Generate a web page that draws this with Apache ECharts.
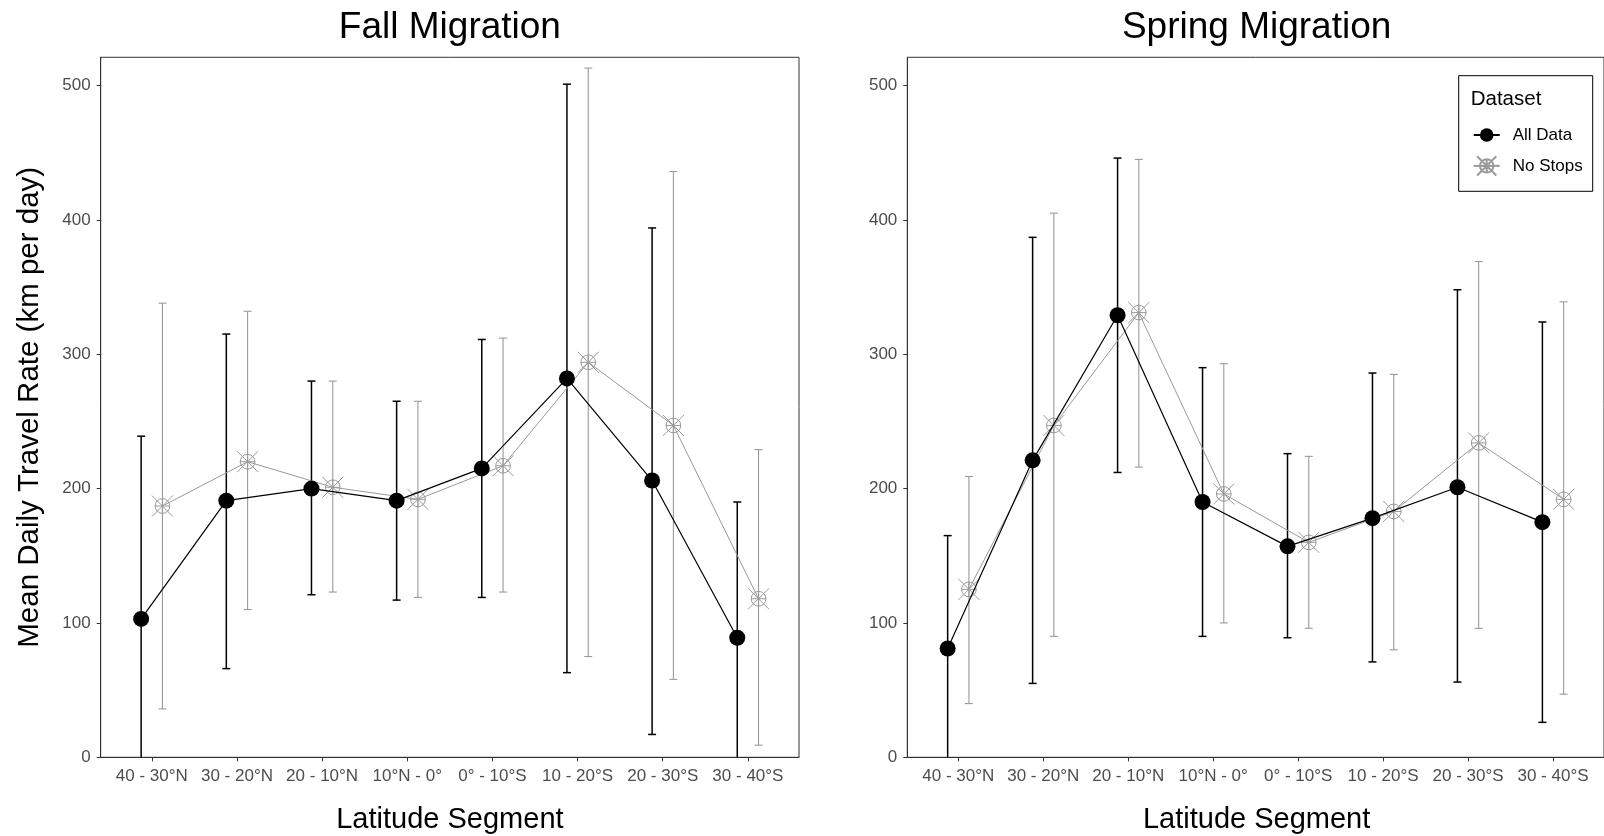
<!DOCTYPE html>
<html>
<head>
<meta charset="utf-8">
<script src="https://cdn.jsdelivr.net/npm/echarts@6.0.0/dist/echarts.min.js"></script>
<style>
  html, body { margin: 0; padding: 0; background: #fff; }
  #chart { width: 1604px; height: 836px; }
</style>
</head>
<body>
<div id="chart"></div>
<script>
// Latitude segments along the migration route
const segments = ['40 - 30°N', '30 - 20°N', '20 - 10°N', '10°N - 0°', '0° - 10°S', '10 - 20°S', '20 - 30°S', '30 - 40°S'];
const yTicks = [0, 100, 200, 300, 400, 500];

// Fall migration: mean daily travel rate and error bar ends (km per day)
const fallAllMean    = [103, 191, 200, 191, 215, 282, 206, 89];
const fallAllLow     = [-33, 66, 121, 117, 119, 63, 17, -12];
const fallAllHigh    = [239, 315, 280, 265, 311, 501, 394, 190];
const fallNoStopMean = [187, 220, 201, 192, 217, 294, 247, 118];
const fallNoStopLow  = [36, 110, 123, 119, 123, 75, 58, 9];
const fallNoStopHigh = [338, 332, 280, 265, 312, 513, 436, 229];

// Spring migration
const springAllMean    = [81, 221, 329, 190, 157, 178, 201, 175];
const springAllLow     = [-2, 55, 212, 90, 89, 71, 56, 26];
const springAllHigh    = [165, 387, 446, 290, 226, 286, 348, 324];
const springNoStopMean = [125, 247, 331, 196, 160, 183, 234, 192];
const springNoStopLow  = [40, 90, 216, 100, 96, 80, 96, 47];
const springNoStopHigh = [209, 405, 445, 293, 224, 285, 369, 339];

const FONT = "'Liberation Sans', Arial, Helvetica, sans-serif";
const BLACK = '#000000';
const GREY = '#9a9a9a';
const FRAME = '#333333';
const TICK_TEXT = '#4d4d4d';
const DODGE = 0.125;
const CAP = 4;

// open circle with an asterisk through it
const starCircle = 'path://M3,10 A7,7 0 1,1 17,10 A7,7 0 1,1 3,10 Z M0,0 L20,20 M0,20 L20,0 M10,3 L10,17 M3,10 L17,10';

const grids = [
  { left: 100.7, top: 57.3, width: 698.3, height: 700 },
  { left: 907.3, top: 57.3, width: 698.7, height: 700 }
];

function xAxisFor(idx) {
  return {
    type: 'value', gridIndex: idx, min: 0.4, max: 8.6,
    splitLine: { show: false },
    axisLine: { show: true, lineStyle: { color: FRAME, width: 1 } },
    axisTick: { show: true, length: 4, lineStyle: { color: FRAME }, customValues: segments.map((s, i) => i + 1) },
    axisLabel: {
      customValues: segments.map((s, i) => i + 1),
      formatter: v => segments[Math.round(v) - 1],
      color: TICK_TEXT, fontSize: 17, fontFamily: FONT, margin: 11
    }
  };
}
function yAxisFor(idx) {
  return {
    type: 'value', gridIndex: idx, min: 0, max: 521,
    splitLine: { show: false },
    axisLine: { show: true, lineStyle: { color: FRAME, width: 1 } },
    axisTick: { show: true, length: 4, lineStyle: { color: FRAME }, customValues: yTicks },
    axisLabel: { customValues: yTicks, color: TICK_TEXT, fontSize: 17, fontFamily: FONT, margin: 10 }
  };
}

function errorBars(name, idx, lows, highs, shift, color, width) {
  return {
    type: 'custom', name: name, xAxisIndex: idx, yAxisIndex: idx, z: 1,
    dimensions: ['x', 'low', 'high'],
    encode: { x: 0, y: [1, 2] },
    data: lows.map((lo, i) => [i + 1 + shift, lo, highs[i]]),
    renderItem: function (params, api) {
      const x = api.value(0);
      const top = api.coord([x, api.value(2)]);
      const bot = api.coord([x, api.value(1)]);
      const floor = params.coordSys.y + params.coordSys.height;
      const style = { stroke: color, lineWidth: width };
      const yb = Math.min(bot[1], floor);
      const children = [
        { type: 'line', shape: { x1: top[0], y1: top[1], x2: top[0], y2: yb }, style: style },
        { type: 'line', shape: { x1: top[0] - CAP, y1: top[1], x2: top[0] + CAP, y2: top[1] }, style: style }
      ];
      if (bot[1] <= floor) {
        children.push({ type: 'line', shape: { x1: bot[0] - CAP, y1: bot[1], x2: bot[0] + CAP, y2: bot[1] }, style: style });
      }
      return { type: 'group', children: children };
    }
  };
}

function meanLine(name, idx, means, shift, isStops) {
  return {
    type: 'line', name: name, xAxisIndex: idx, yAxisIndex: idx, z: isStops ? 3 : 4,
    data: means.map((m, i) => [i + 1 + shift, m]),
    symbol: isStops ? starCircle : 'circle',
    symbolSize: isStops ? 21 : 16,
    symbolKeepAspect: true,
    lineStyle: { color: isStops ? GREY : BLACK, width: isStops ? 1 : 1.2 },
    itemStyle: isStops
      ? { color: 'rgba(0,0,0,0)', borderColor: GREY, borderWidth: 1 }
      : { color: BLACK, borderColor: BLACK, borderWidth: 0 },
    emphasis: { disabled: true }
  };
}

const series = [
  errorBars('All Data SD', 0, fallAllLow, fallAllHigh, -DODGE, BLACK, 1.5),
  errorBars('No Stops SD', 0, fallNoStopLow, fallNoStopHigh, DODGE, GREY, 1.1),
  meanLine('All Data', 0, fallAllMean, -DODGE, false),
  meanLine('No Stops', 0, fallNoStopMean, DODGE, true),
  errorBars('All Data SD', 1, springAllLow, springAllHigh, -DODGE, BLACK, 1.5),
  errorBars('No Stops SD', 1, springNoStopLow, springNoStopHigh, DODGE, GREY, 1.1),
  meanLine('All Data', 1, springAllMean, -DODGE, false),
  meanLine('No Stops', 1, springNoStopMean, DODGE, true)
];

const legendText = { color: '#000', fontSize: 17, fontFamily: FONT, padding: [0, 0, 0, 8] };

const chart = echarts.init(document.getElementById('chart'), null, { renderer: 'canvas' });
chart.setOption({
  animation: false,
  backgroundColor: '#ffffff',
  grid: grids.map(g => Object.assign({ show: true, borderColor: FRAME, borderWidth: 1, backgroundColor: 'transparent' }, g)),
  xAxis: [xAxisFor(0), xAxisFor(1)],
  yAxis: [yAxisFor(0), yAxisFor(1)],
  legend: [
    { data: ['All Data'], orient: 'vertical', left: 1472.7, top: 126.5, padding: 0, z: 20,
      itemWidth: 26, itemHeight: 17, textStyle: legendText, selectedMode: false },
    { data: ['No Stops'], orient: 'vertical', left: 1472.7, top: 155.3, padding: 0, z: 20,
      itemWidth: 26, itemHeight: 24, textStyle: legendText, selectedMode: false }
  ],
  graphic: [
    { type: 'text', x: 449.9, y: 28, style: { text: 'Fall Migration', font: '37px ' + FONT, fill: '#000', align: 'center', verticalAlign: 'middle' } },
    { type: 'text', x: 1256.6, y: 28, style: { text: 'Spring Migration', font: '37px ' + FONT, fill: '#000', align: 'center', verticalAlign: 'middle' } },
    { type: 'text', x: 449.9, y: 819.5, style: { text: 'Latitude Segment', font: '29px ' + FONT, fill: '#000', align: 'center', verticalAlign: 'middle' } },
    { type: 'text', x: 1256.6, y: 819.5, style: { text: 'Latitude Segment', font: '29px ' + FONT, fill: '#000', align: 'center', verticalAlign: 'middle' } },
    { type: 'text', x: 30, y: 407.3, rotation: Math.PI / 2, style: { text: 'Mean Daily Travel Rate (km per day)', font: '29.5px ' + FONT, fill: '#000', align: 'center', verticalAlign: 'middle' } },
    { type: 'rect', shape: { x: 1458.7, y: 75.7, width: 134, height: 115.6 }, style: { fill: 'none', stroke: '#000', lineWidth: 1 } },
    { type: 'text', x: 1470.7, y: 99.3, style: { text: 'Dataset', font: '20.5px ' + FONT, fill: '#000', align: 'left', verticalAlign: 'middle' } }
  ],
  series: series
});
</script>
</body>
</html>
